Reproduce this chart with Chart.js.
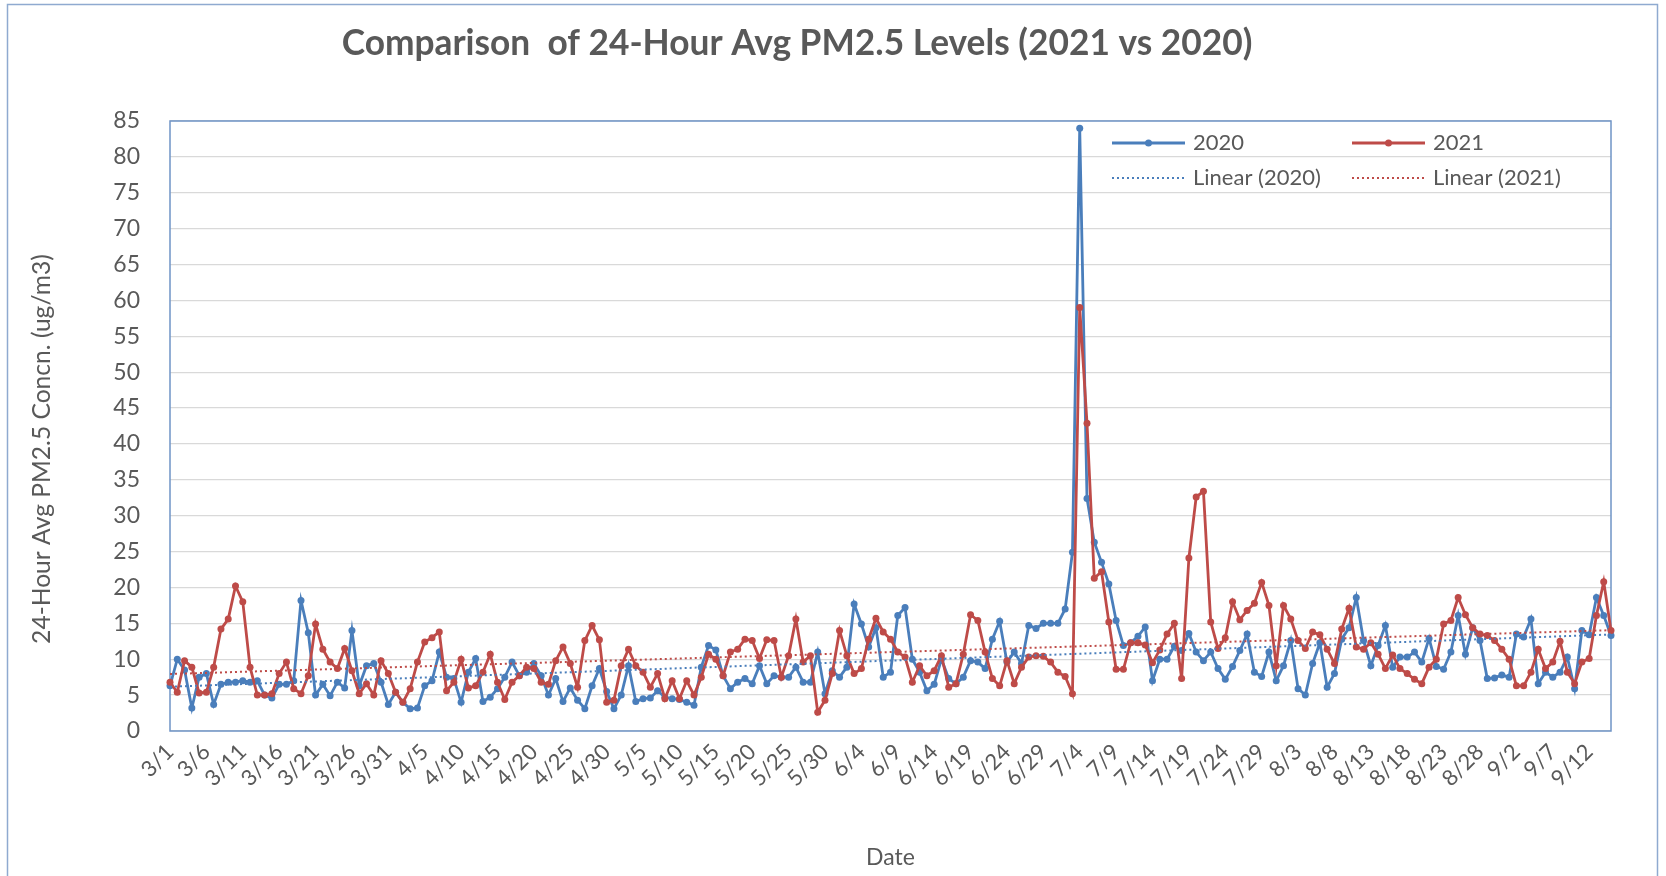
<!DOCTYPE html>
<html>
<head>
<meta charset="utf-8">
<script src="https://cdn.jsdelivr.net/npm/chart.js@4.4.1/dist/chart.umd.min.js"></script>
<style>
  html, body { margin: 0; padding: 0; background: #fff; }
  #wrap { width: 1666px; height: 876px; position: relative; }
</style>
</head>
<body>
<div id="wrap"><canvas id="chart" width="1666" height="876"></canvas></div>
<script>
// days covered per month, 3/1 .. 9/15
const months = [3, 4, 5, 6, 7, 8, 9];
const daysInMonth = [31, 30, 31, 30, 31, 31, 15];
const labelEvery = 5;

const pm2020 = [
    6.3, 10, 8.5, 3.2, 7.5, 8, 3.7, 6.5, 6.8, 6.8,
    7, 6.8, 7, 5, 4.6, 6.5, 6.5, 7, 18.2, 13.7,
    5, 6.5, 4.9, 6.8, 6, 14, 6.3, 9.1, 9.4, 6.8,
    3.7, 5.4, 4, 3.1, 3.2, 6.3, 7, 11, 7.5, 7.3,
    4, 8.2, 10.1, 4.1, 4.7, 5.9, 7.5, 9.6, 7.7, 8.2,
    9.4, 7.7, 5, 7.3, 4.1, 6, 4.3, 3.1, 6.3, 8.7,
    5.5, 3.1, 5, 9.1, 4.1, 4.5, 4.6, 5.6, 4.7, 4.5,
    4.4, 4, 3.6, 8.9, 11.9, 11.3, 7.7, 5.9, 6.8, 7.3,
    6.6, 9.1, 6.6, 7.7, 7.5, 7.5, 8.9, 6.8, 6.8, 11,
    5.2, 8.4, 7.5, 8.9, 17.7, 14.9, 11.7, 14.4, 7.5, 8.2,
    16.1, 17.2, 10, 8.2, 5.6, 6.5, 10, 7.3, 6.6, 7.5,
    9.8, 9.6, 8.7, 12.8, 15.3, 9.6, 11, 9.4, 14.7, 14.3,
    15, 15, 15, 17, 24.9, 84, 32.4, 26.3, 23.5, 20.5,
    15.4, 11.9, 12.3, 13.2, 14.5, 7, 10, 10, 11.8, 11.2,
    13.6, 11, 9.8, 11, 8.7, 7.2, 9, 11.2, 13.5, 8.2,
    7.6, 11, 7, 9.1, 12.6, 5.9, 5, 9.4, 12.3, 6.1,
    8, 12.8, 14.4, 18.6, 12.6, 9.1, 11.9, 14.7, 8.9, 10.3,
    10.3, 11, 9.6, 12.9, 9, 8.6, 11, 16.1, 10.7, 14.4,
    12.6, 7.3, 7.4, 7.8, 7.5, 13.5, 13.1, 15.6, 6.6, 8.2,
    7.5, 8.2, 10.3, 5.9, 14, 13.4, 18.6, 16.1, 13.3
];

const pm2021 = [
    6.8, 5.4, 9.8, 8.9, 5.3, 5.4, 8.9, 14.2, 15.6, 20.2,
    18, 8.9, 5, 5, 5.2, 8, 9.6, 5.9, 5.2, 7.7,
    14.9, 11.4, 9.6, 8.7, 11.5, 8.4, 5.2, 6.6, 5, 9.8,
    8, 5.4, 4, 5.9, 9.6, 12.4, 13, 13.8, 5.6, 6.8,
    10, 6, 6.3, 8.2, 10.7, 6.8, 4.4, 6.8, 7.7, 8.9,
    8.7, 6.8, 6.5, 9.8, 11.7, 9.4, 6.1, 12.6, 14.7, 12.7,
    4, 4.3, 9.1, 11.4, 9.1, 8.2, 6.1, 8, 4.5, 7,
    4.5, 7, 5, 7.5, 10.7, 10, 7.7, 11, 11.4, 12.8,
    12.6, 10.1, 12.7, 12.6, 7.5, 10.5, 15.6, 9.6, 10.5, 2.6,
    4.3, 8, 14, 10.5, 8, 8.7, 12.8, 15.7, 13.8, 12.8,
    11, 10.3, 6.8, 9.1, 7.7, 8.4, 10.5, 6.1, 6.6, 10.7,
    16.2, 15.4, 11, 7.3, 6.3, 9.8, 6.6, 8.9, 10.3, 10.5,
    10.4, 9.6, 8.2, 7.6, 5.2, 59, 42.9, 21.3, 22.2, 15.2,
    8.6, 8.6, 12.3, 12.3, 12, 9.5, 11.3, 13.5, 15, 7.3,
    24.1, 32.6, 33.4, 15.2, 11.5, 13, 18, 15.5, 16.8, 17.8,
    20.7, 17.5, 9.1, 17.5, 15.6, 12.6, 11.5, 13.8, 13.4, 11.4,
    9.4, 14.2, 17.1, 11.7, 11.4, 12.3, 10.7, 8.7, 10.6, 8.7,
    8, 7.2, 6.6, 8.9, 10, 14.9, 15.4, 18.6, 16.2, 14.4,
    13.5, 13.3, 12.6, 11.4, 10, 6.3, 6.3, 8.2, 11.4, 8.7,
    9.6, 12.5, 8.2, 6.6, 9.6, 10.1, 16.1, 20.8, 14
];

const blue = '#4a7ebb';
const red = '#be4b48';
const textGray = '#595959';

const dates = [];
months.forEach((m, k) => {
    for (let d = 1; d <= daysInMonth[k]; d++) dates.push(m + '/' + d);
});

// least squares trend, like Excel's "Linear" trendline
function linearTrend(vals) {
    const n = vals.length;
    let sx = 0, sy = 0, sxy = 0, sxx = 0;
    vals.forEach((y, i) => { sx += i; sy += y; sxy += i * y; sxx += i * i; });
    const b = (n * sxy - sx * sy) / (n * sxx - sx * sx);
    const a = (sy - b * sx) / n;
    return vals.map((_, i) => a + b * i);
}

// shrink/grow a font so the text spans about `width` px
function fitFont(c, text, weight, width) {
    c.font = weight + ' 30px Lato';
    const size = 30 * width / c.measureText(text).width;
    c.font = weight + ' ' + size.toFixed(1) + 'px Lato';
}

const framePlugin = {
    id: 'frame',
    beforeDraw(chart) {
        const c = chart.ctx;
        c.save();
        c.fillStyle = '#fff';
        c.fillRect(0, 0, chart.width, chart.height);
        c.strokeStyle = '#8faad0';
        c.lineWidth = 1.5;
        c.strokeRect(7.5, 4.5, 1650, 900);
        c.restore();
    },
    beforeDatasetsDraw(chart) {
        const a = chart.chartArea;
        const c = chart.ctx;
        c.save();
        c.strokeStyle = '#6f94c6';
        c.lineWidth = 1.5;
        c.strokeRect(a.left, a.top, a.right - a.left, a.bottom - a.top);
        c.restore();
    }
};

const textPlugin = {
    id: 'texts',
    afterDraw(chart) {
        const c = chart.ctx;
        c.save();
        c.fillStyle = textGray;
        c.textBaseline = 'middle';
        c.textAlign = 'center';
        const title = 'Comparison  of 24-Hour Avg PM2.5 Levels (2021 vs 2020)';
        fitFont(c, title, 'bold', 912);
        c.fillText(title, 797, 44);

        c.save();
        c.translate(42, 449);
        c.rotate(-Math.PI / 2);
        const yTitle = '24-Hour Avg PM2.5 Concn. (ug/m3)';
        fitFont(c, yTitle, 'normal', 390);
        c.fillText(yTitle, 0, 0);
        c.restore();

        // legend, 2 x 2 inside the plot
        const entries = [
            { x: 1112, y: 143, color: blue, dotted: false, text: '2020' },
            { x: 1352, y: 143, color: red, dotted: false, text: '2021' },
            { x: 1112, y: 178, color: blue, dotted: true, text: 'Linear (2020)' },
            { x: 1352, y: 178, color: red, dotted: true, text: 'Linear (2021)' }
        ];
        c.textAlign = 'left';
        c.font = '22px Lato';
        entries.forEach(e => {
            c.strokeStyle = e.color;
            c.lineWidth = e.dotted ? 2 : 2.8;
            c.setLineDash(e.dotted ? [2, 3] : []);
            c.beginPath();
            c.moveTo(e.x, e.y);
            c.lineTo(e.x + 73, e.y);
            c.stroke();
            c.setLineDash([]);
            if (!e.dotted) {
                c.fillStyle = e.color;
                c.beginPath();
                c.arc(e.x + 36.5, e.y, 3.5, 0, Math.PI * 2);
                c.fill();
            }
            c.fillStyle = textGray;
            c.fillText(e.text, e.x + 81, e.y);
        });
        c.restore();
    }
};

function build() {
    Chart.defaults.font.family = 'Lato';
    const ctx = document.getElementById('chart').getContext('2d');
    new Chart(ctx, {
        type: 'line',
        data: {
            labels: dates,
            datasets: [
                {
                    label: 'Linear (2020)', data: linearTrend(pm2020), borderColor: blue,
                    borderWidth: 2, borderDash: [2, 3], pointRadius: 0, order: 0
                },
                {
                    label: 'Linear (2021)', data: linearTrend(pm2021), borderColor: red,
                    borderWidth: 2, borderDash: [2, 3], pointRadius: 0, order: 0
                },
                {
                    label: '2021', data: pm2021, borderColor: red, backgroundColor: red,
                    borderWidth: 2.8, pointRadius: 3.5, pointBorderWidth: 0, order: 1
                },
                {
                    label: '2020', data: pm2020, borderColor: blue, backgroundColor: blue,
                    borderWidth: 2.8, pointRadius: 3.5, pointBorderWidth: 0, order: 2
                }
            ]
        },
        options: {
            responsive: false,
            animation: false,
            events: [],
            layout: { padding: { top: 121, right: 55, bottom: 0, left: 0 } },
            plugins: {
                legend: { display: false },
                title: { display: false },
                tooltip: { enabled: false }
            },
            scales: {
                x: {
                    offset: false,
                    grid: { display: false, drawTicks: false },
                    border: { display: false },
                    ticks: {
                        autoSkip: false, minRotation: 45, maxRotation: 45, padding: 8,
                        color: textGray, font: { size: 22 },
                        callback: (v, i) => i % labelEvery === 0 ? dates[i] : null
                    },
                    title: {
                        display: true, text: 'Date', color: textGray,
                        font: { size: 23 }, padding: { top: 0, bottom: 5 }
                    },
                    afterFit: s => { s.height = 145; }
                },
                y: {
                    min: 0, max: 85,
                    ticks: { stepSize: 5, padding: 30, color: textGray, font: { size: 23 } },
                    grid: { color: '#d9d9d9', lineWidth: 1.3, drawTicks: false },
                    border: { display: false },
                    afterFit: s => { s.width = 170; }
                }
            }
        },
        plugins: [framePlugin, textPlugin]
    });
}

document.fonts.load('20px Lato').then(build, build);
</script>
</body>
</html>
